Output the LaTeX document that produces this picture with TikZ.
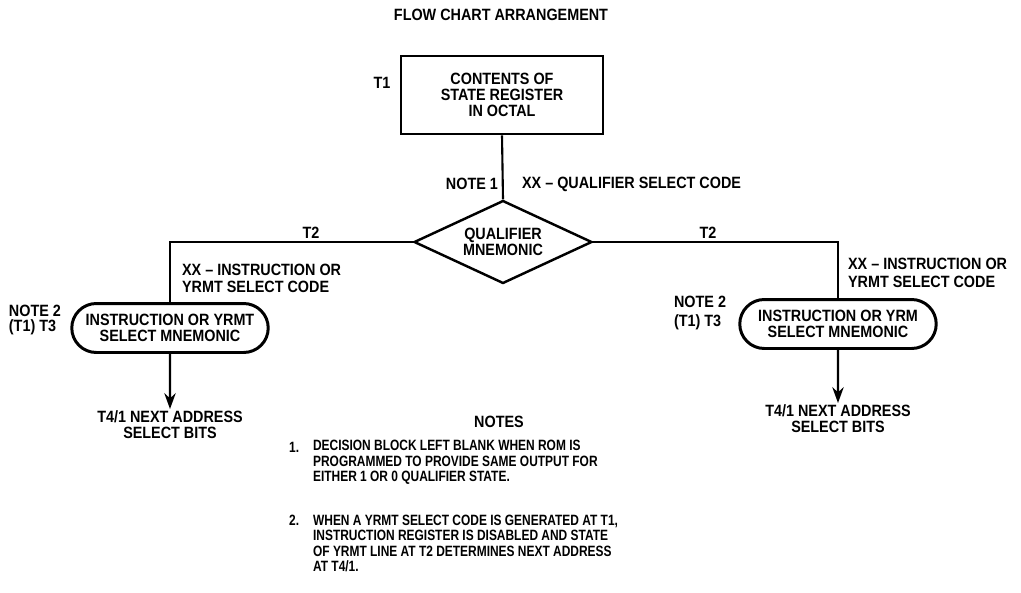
\documentclass[tikz,border=0pt]{standalone}
\usepackage{fontspec}
\setmainfont{Liberation Sans}[FakeStretch=0.88]
\newfontfamily\notefont{Liberation Sans}[FakeStretch=0.8]
\usetikzlibrary{arrows.meta, positioning, shapes.geometric, shapes.misc}

\begin{document}
\begin{tikzpicture}[x=0.02cm, y=-0.02cm, node distance=0.2cm,
  every node/.style={font=\fontsize{9.3}{9}\selectfont\bfseries},
  statebox/.style={rectangle, draw, line width=1.6pt, minimum width=4.04cm, minimum height=1.56cm, align=center, inner sep=2pt},
  decision/.style={diamond, draw, line width=1.4pt, minimum width=3.56cm, minimum height=1.66cm, aspect=2.14, inner sep=0pt, align=center},
  mnemonic/.style={rounded rectangle, draw, line width=1.7pt, minimum width=4cm, minimum height=0.98cm, align=center, inner sep=1pt},
  lbl/.style={align=left, inner sep=1pt},
  notetext/.style={align=left, inner sep=1pt, font=\notefont\fontsize{8.5}{8.8}\selectfont\bfseries},
  line/.style={line width=1.2pt},
  arrow/.style={line width=1.2pt, -{Stealth[length=9pt, width=6.5pt]}}]

\useasboundingbox (0,0) rectangle (1021,592);

\node (title) at (501,15) {FLOW CHART ARRANGEMENT};
\node[statebox] (state) at (502,95) {CONTENTS OF\\STATE REGISTER\\IN OCTAL};
\node[lbl] (t1) at (382,83) {T1};
\node[decision] (qual) at (503,242) {QUALIFIER\\MNEMONIC};
\node[lbl, anchor=east] (note1) at (500,184) {NOTE 1};
\node[lbl, anchor=west] (qcode) at (520,184) {XX -- QUALIFIER SELECT CODE};

\coordinate (lturn) at (170,242);
\coordinate (rturn) at (838,242);
\node[lbl] (lt2) at (311,233) {T2};
\node[lbl] (rt2) at (708,233) {T2};

\node[mnemonic] (lmnem) at (170,328) {INSTRUCTION OR YRMT\\SELECT MNEMONIC};
\node[mnemonic] (rmnem) at (838,324) {INSTRUCTION OR YRM\\SELECT MNEMONIC};
\node[lbl, anchor=west, font=\fontsize{9.3}{9.8}\selectfont\bfseries] (lcode) at (180,278) {XX -- INSTRUCTION OR\\YRMT SELECT CODE};
\node[lbl, anchor=west, font=\fontsize{9.3}{10.6}\selectfont\bfseries] (rcode) at (846,273) {XX -- INSTRUCTION OR\\YRMT SELECT CODE};
\node[lbl, anchor=east] (lnote2) at (63,320) {NOTE 2\\(T1) T3};
\node[lbl, anchor=west, font=\fontsize{9.3}{10.6}\selectfont\bfseries] (rnote2) at (672,313) {NOTE 2\\(T1) T3};

\node[lbl, align=center] (lnext) at (170,425) {T4/1 NEXT ADDRESS\\SELECT BITS};
\node[lbl, align=center] (rnext) at (838,419) {T4/1 NEXT ADDRESS\\SELECT BITS};

\node (notes) at (499,422) {NOTES};
\node[notetext, anchor=west] (num1) at (287,447) {1.};
\node[notetext, anchor=west] (note1text) at (311,462.5) {DECISION BLOCK LEFT BLANK WHEN ROM IS\\PROGRAMMED TO PROVIDE SAME OUTPUT FOR\\EITHER 1 OR 0 QUALIFIER STATE.};
\node[notetext, anchor=west] (num2) at (287,520) {2.};
\node[notetext, anchor=west] (note2text) at (311,543.5) {WHEN A YRMT SELECT CODE IS GENERATED AT T1,\\INSTRUCTION REGISTER IS DISABLED AND STATE\\OF YRMT LINE AT T2 DETERMINES NEXT ADDRESS\\AT T4/1.};

\draw[line] (state.south) -- (qual.north);
\draw[line] (qual.west) -- (lturn) -- (lmnem.north);
\draw[line] (qual.east) -- (rturn) -- (rmnem.north);
\draw[arrow] (lmnem) -- (lnext);
\draw[arrow] (rmnem) -- (rnext);
\end{tikzpicture}
\end{document}
